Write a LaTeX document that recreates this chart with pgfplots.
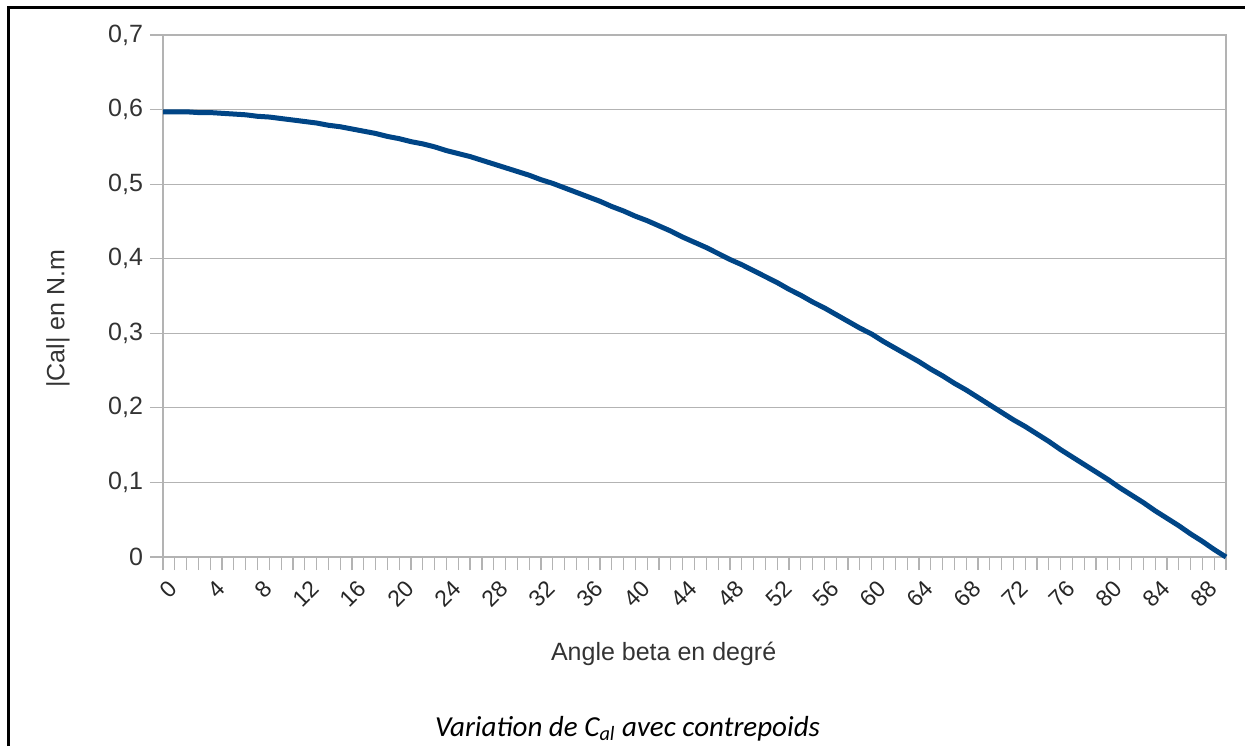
\documentclass[border=0pt]{standalone}
\usepackage{pgfplots}
\usepackage{pgfplotstable}
\pgfplotsset{compat=1.18}
\usepackage{fontspec}
\setmainfont{Liberation Sans}
\newfontfamily\carlito{Carlito}
\definecolor{serie}{HTML}{004586}
\definecolor{gridc}{HTML}{B3B3B3}
\definecolor{txt}{HTML}{333333}

\pgfplotstableread{
beta cal
0 0.597
1 0.597
2 0.597
3 0.596
4 0.596
5 0.595
6 0.594
7 0.593
8 0.591
9 0.590
10 0.588
11 0.586
12 0.584
13 0.582
14 0.579
15 0.577
16 0.574
17 0.571
18 0.568
19 0.564
20 0.561
21 0.557
22 0.554
23 0.550
24 0.545
25 0.541
26 0.537
27 0.532
28 0.527
29 0.522
30 0.517
31 0.512
32 0.506
33 0.501
34 0.495
35 0.489
36 0.483
37 0.477
38 0.470
39 0.464
40 0.457
41 0.451
42 0.444
43 0.437
44 0.429
45 0.422
46 0.415
47 0.407
48 0.399
49 0.392
50 0.384
51 0.376
52 0.368
53 0.359
54 0.351
55 0.342
56 0.334
57 0.325
58 0.316
59 0.307
60 0.299
61 0.289
62 0.280
63 0.271
64 0.262
65 0.252
66 0.243
67 0.233
68 0.224
69 0.214
70 0.204
71 0.194
72 0.184
73 0.175
74 0.165
75 0.155
76 0.144
77 0.134
78 0.124
79 0.114
80 0.104
81 0.093
82 0.083
83 0.073
84 0.062
85 0.052
86 0.042
87 0.031
88 0.021
89 0.010
90 0.000
}\caldata

\begin{document}
\begin{tikzpicture}
\path[use as bounding box] (0,0) rectangle (622.5pt,373pt);
\draw[line width=1.5pt,black] (4pt,0pt) -- (4pt,369pt) -- (622.5pt,369pt);
\begin{axis}[
  at={(81.5pt,94.5pt)}, anchor=south west,
  scale only axis, width=531.5pt, height=261pt,
  xmin=0, xmax=90, ymin=0, ymax=0.7,
  clip=false,
  xtick={0,4,...,88},
  minor xtick={0,1,...,90},
  ytick={0,0.1,...,0.7},
  xtick pos=bottom, ytick pos=left,
  tick align=outside,
  major tick length=6.5pt, minor tick length=6.5pt,
  tick style={gridc, line width=0.6pt},
  axis line style={gridc, line width=0.6pt},
  ymajorgrids,
  major grid style={gridc, line width=0.6pt},
  /pgf/number format/assume math mode=true,
  /pgf/number format/use comma,
  yticklabel style={/pgf/number format/fixed, /pgf/number format/precision=1, font=\fontsize{12.5}{15}\selectfont, text=txt},
  xticklabel style={rotate=45, anchor=east, inner sep=0.5pt, xshift=-1pt, yshift=-9pt, font=\fontsize{11.5}{14}\selectfont, text=black!85},
  xlabel={Angle beta en degré},
  ylabel={|Cal| en N.m},
  xlabel style={at={(rel axis cs:0.471,-0.186)}, anchor=center, font=\fontsize{12.5}{15}\selectfont, text=txt},
  ylabel style={at={(rel axis cs:-0.0988,0.456)}, anchor=center, font=\fontsize{12.5}{15}\selectfont, text=txt},
]
\addplot[serie, line width=2.5pt, line join=round, mark=none] table[x=beta, y=cal] {\caldata};
\end{axis}
\node[anchor=base, inner sep=0pt] at (313.75pt,5pt) {\carlito\fontsize{14.5}{17}\selectfont\itshape Variation de C\textsubscript{al} avec contrepoids};
\end{tikzpicture}
\end{document}
